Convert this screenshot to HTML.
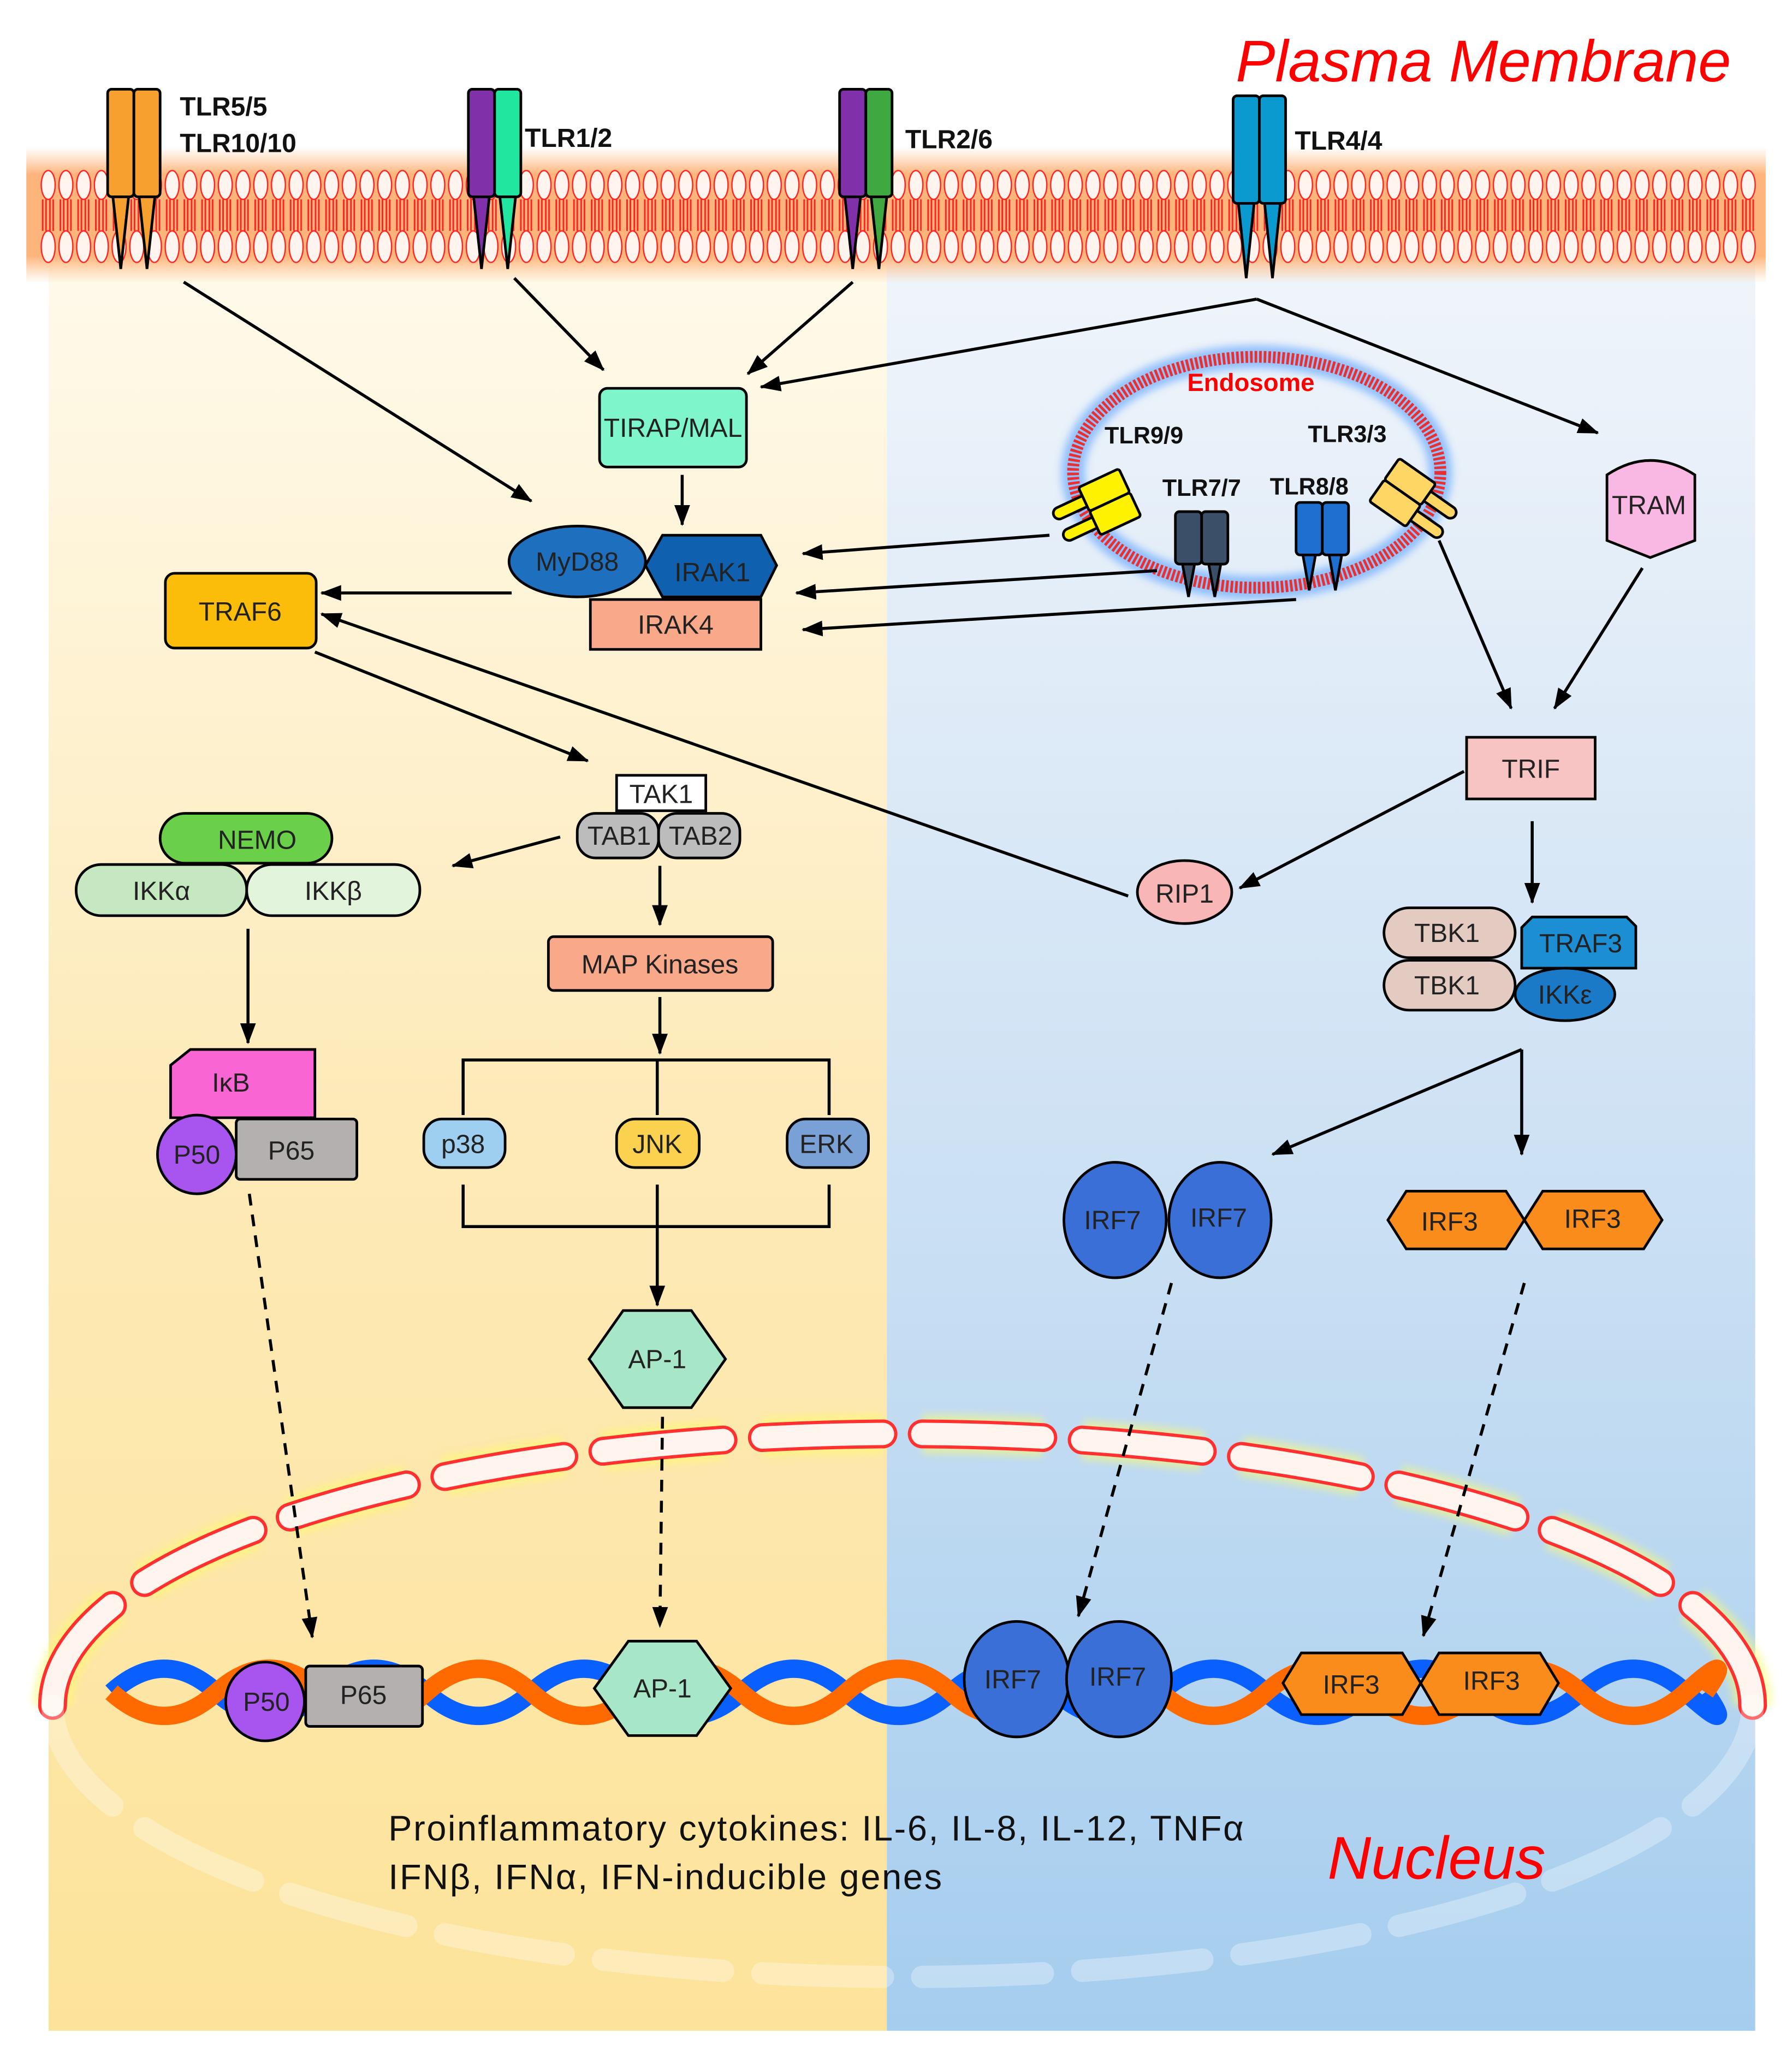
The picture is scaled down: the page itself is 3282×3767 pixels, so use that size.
<!DOCTYPE html>
<html><head><meta charset="utf-8"><style>html,body{margin:0;padding:0;background:#fff}svg{display:block}</style></head>
<body>
<svg xmlns="http://www.w3.org/2000/svg" width="3282" height="3767" viewBox="0 0 1366 1568" font-family="Liberation Sans, Arial, sans-serif">
<defs>
<linearGradient id="lg" x1="0" y1="0" x2="0" y2="1"><stop offset="0" stop-color="#fffbef"/><stop offset="0.5" stop-color="#fdeab8"/><stop offset="1" stop-color="#fde39a"/></linearGradient>
<linearGradient id="rg" x1="0" y1="0" x2="0" y2="1"><stop offset="0" stop-color="#f2f6fb"/><stop offset="0.5" stop-color="#cfe2f4"/><stop offset="1" stop-color="#a5cdee"/></linearGradient>
<linearGradient id="mg" x1="0" y1="0" x2="0" y2="1"><stop offset="0" stop-color="#fdc48f" stop-opacity="0"/><stop offset="0.2" stop-color="#fdb57c"/><stop offset="0.8" stop-color="#fdb57c"/><stop offset="1" stop-color="#fdc48f" stop-opacity="0"/></linearGradient>
<pattern id="lip" x="30" y="0" width="13.5" height="300" patternUnits="userSpaceOnUse">
<ellipse cx="6.7" cy="141" rx="5.3" ry="11" fill="#fff5ee" stroke="#ff2020" stroke-width="1"/>
<ellipse cx="6.7" cy="188" rx="5.3" ry="12" fill="#fff5ee" stroke="#ff2020" stroke-width="1"/>
<path d="M2.5,152 V176 M5,152 V176 M8,152 V176 M10.5,152 V176" stroke="#ff2020" stroke-width="1.2"/>
</pattern>
<marker id="a" markerWidth="16" markerHeight="12" refX="15" refY="6" orient="auto" markerUnits="userSpaceOnUse"><path d="M0,0 L16,6 L0,12 z" fill="#000"/></marker>
<filter id="bl2"><feGaussianBlur stdDeviation="3"/></filter>
</defs>

<rect x="37" y="150" width="639" height="1398" fill="url(#lg)"/>
<rect x="676" y="150" width="662" height="1398" fill="url(#rg)"/>
<rect x="20" y="112" width="1326" height="104" fill="url(#mg)"/>
<rect x="30" y="128" width="1310" height="75" fill="url(#lip)"/>

<text x="942" y="62" font-size="45" font-style="italic" fill="#ff0000">Plasma Membrane</text>

<g stroke="#000" stroke-width="2">
<path d="M86,150 L92,205 L98,150 Z" fill="#f7a030"/><path d="M106,150 L112,205 L118,150 Z" fill="#f7a030"/>
<rect x="82" y="68" width="20" height="82" rx="3" fill="#f7a030"/><rect x="102" y="68" width="20" height="82" rx="3" fill="#f7a030"/>
<path d="M361,150 L367,205 L373,150 Z" fill="#8030a8"/><path d="M381,150 L387,205 L393,150 Z" fill="#20e6a0"/>
<rect x="357" y="68" width="20" height="82" rx="3" fill="#8030a8"/><rect x="377" y="68" width="20" height="82" rx="3" fill="#20e6a0"/>
<path d="M644,150 L650,205 L656,150 Z" fill="#8030a8"/><path d="M664,150 L670,205 L676,150 Z" fill="#40a840"/>
<rect x="640" y="68" width="20" height="82" rx="3" fill="#8030a8"/><rect x="660" y="68" width="20" height="82" rx="3" fill="#40a840"/>
<path d="M944,155 L950,212 L956,155 Z" fill="#0a9ad0"/><path d="M964,155 L970,212 L976,155 Z" fill="#0a9ad0"/>
<rect x="940" y="73" width="20" height="82" rx="3" fill="#0a9ad0"/><rect x="960" y="73" width="20" height="82" rx="3" fill="#0a9ad0"/>
</g>
<g font-size="20" font-weight="bold" fill="#111">
<text x="137" y="88">TLR5/5</text><text x="137" y="116">TLR10/10</text>
<text x="400" y="112">TLR1/2</text><text x="690" y="113">TLR2/6</text><text x="987" y="114">TLR4/4</text>
</g>

<!-- nucleus envelope -->
<path d="M40,1300 A648,207 0 0 1 1336,1300" fill="none" stroke="#ffff60" stroke-width="30" stroke-dasharray="92 30" opacity="0.5" filter="url(#bl2)"/>
<path d="M40,1300 A648,207 0 0 1 1336,1300" fill="none" stroke="#ff3030" stroke-width="22" stroke-dasharray="92 30" stroke-linecap="round"/>
<path d="M40,1300 A648,207 0 0 1 1336,1300" fill="none" stroke="#fff5ee" stroke-width="17" stroke-dasharray="92 30" stroke-linecap="round"/>
<path d="M40,1300 A648,207 0 0 0 1336,1300" fill="none" stroke="#ffffff" stroke-width="17" stroke-dasharray="92 30" stroke-linecap="round" opacity="0.3"/>

<!-- DNA -->
<path d="M85,1290 q40,-36 80,0 t80,0 t80,0 t80,0 t80,0 t80,0 t80,0 t80,0 t80,0 t80,0 t80,0 t80,0 t80,0 t80,0 t80,0 t15,0" fill="none" stroke="#0a60ff" stroke-width="14"/>
<path d="M85,1290 q40,36 80,0 t80,0 t80,0 t80,0 t80,0 t80,0 t80,0 t80,0 t80,0 t80,0 t80,0 t80,0 t80,0 t80,0 t80,0 t15,0" fill="none" stroke="#ff6a00" stroke-width="14"/>

<!-- endosome -->
<ellipse cx="958" cy="360" rx="140" ry="88" fill="none" stroke="#5aa0ff" stroke-width="18" opacity="0.6" filter="url(#bl2)"/>
<ellipse cx="958" cy="360" rx="140" ry="88" fill="none" stroke="#e83030" stroke-width="9" stroke-dasharray="2 1.5"/>
<text x="905" y="298" font-size="19" font-weight="bold" fill="#ff0000">Endosome</text>
<g font-size="18" font-weight="bold" fill="#111">
<text x="842" y="338">TLR9/9</text><text x="997" y="337">TLR3/3</text><text x="886" y="378">TLR7/7</text><text x="968" y="377">TLR8/8</text>
</g>
<g stroke="#000" stroke-width="2">
<g transform="translate(845,383) rotate(-25)">
<rect x="-42" y="-13" width="30" height="9" rx="4.5" fill="#fff200"/><rect x="-42" y="5" width="30" height="9" rx="4.5" fill="#fff200"/>
<rect x="-16" y="-20" width="34" height="20" rx="2" fill="#fff200"/><rect x="-16" y="0" width="34" height="20" rx="2" fill="#fff200"/>
</g>
<g transform="translate(1070,376) rotate(35)">
<rect x="12" y="-13" width="30" height="9" rx="4.5" fill="#fdd664"/><rect x="12" y="5" width="30" height="9" rx="4.5" fill="#fdd664"/>
<rect x="-18" y="-20" width="34" height="20" rx="2" fill="#fdd664"/><rect x="-18" y="0" width="34" height="20" rx="2" fill="#fdd664"/>
</g>
<path d="M901,428 L906,455 L911,428Z" fill="#3b5068"/><path d="M921,428 L926,455 L931,428Z" fill="#3b5068"/>
<rect x="896" y="390" width="20" height="40" rx="3" fill="#3b5068"/><rect x="916" y="390" width="20" height="40" rx="3" fill="#3b5068"/>
<path d="M993,422 L998,450 L1003,422Z" fill="#1e6fcf"/><path d="M1013,422 L1018,450 L1023,422Z" fill="#1e6fcf"/>
<rect x="988" y="383" width="20" height="40" rx="3" fill="#1e6fcf"/><rect x="1008" y="383" width="20" height="40" rx="3" fill="#1e6fcf"/>
</g>

<g stroke="#000" stroke-width="2.3" fill="none" marker-end="url(#a)">
<line x1="140" y1="215" x2="405" y2="382"/>
<line x1="392" y1="212" x2="460" y2="282"/>
<line x1="650" y1="215" x2="570" y2="285"/>
<polyline points="958,228 580,295" />
<line x1="958" y1="228" x2="1218" y2="330"/>
<line x1="520" y1="362" x2="520" y2="400"/>
<line x1="390" y1="452" x2="245" y2="452"/>
<line x1="240" y1="497" x2="448" y2="580"/>
<line x1="860" y1="683" x2="245" y2="468"/>
<line x1="800" y1="408" x2="612" y2="422"/>
<line x1="882" y1="435" x2="607" y2="452"/>
<line x1="988" y1="457" x2="612" y2="480"/>
<line x1="1097" y1="412" x2="1152" y2="540"/>
<line x1="1252" y1="433" x2="1185" y2="540"/>
<line x1="1116" y1="588" x2="945" y2="677"/>
<line x1="1168" y1="626" x2="1168" y2="688"/>
<line x1="1160" y1="800" x2="970" y2="880"/>
<line x1="1160" y1="800" x2="1160" y2="880"/>
<line x1="427" y1="638" x2="345" y2="660"/>
<line x1="189" y1="708" x2="189" y2="795"/>
<line x1="503" y1="660" x2="503" y2="705"/>
<line x1="503" y1="760" x2="503" y2="803"/>
<line x1="501" y1="935" x2="501" y2="995"/>
<line x1="190" y1="910" x2="238" y2="1248" stroke-dasharray="9 7"/>
<line x1="505" y1="1080" x2="503" y2="1240" stroke-dasharray="9 7"/>
<line x1="893" y1="978" x2="822" y2="1232" stroke-dasharray="9 7"/>
<line x1="1162" y1="978" x2="1085" y2="1247" stroke-dasharray="9 7"/>
</g>
<g stroke="#000" stroke-width="2.3" fill="none">
<polyline points="353,850 353,808 632,808 632,850"/><line x1="501" y1="808" x2="501" y2="850"/>
<polyline points="353,903 353,935 632,935 632,903"/><line x1="501" y1="903" x2="501" y2="935"/>
</g>

<g stroke="#000" stroke-width="2" font-size="20" text-anchor="middle" fill="#222">
<rect x="457" y="296" width="112" height="60" rx="6" fill="#7ff5cc"/>
<rect x="450" y="457" width="130" height="38" fill="#f9a98a"/>
<polygon points="505,408 580,408 592,431 580,455 505,455 492,431" fill="#1060b0"/>
<ellipse cx="440" cy="428" rx="52" ry="27" fill="#1f6fbf"/>
<rect x="126" y="437" width="115" height="57" rx="7" fill="#fbbd0a"/>
<path d="M1225,362 Q1258,340 1292,362 V412 L1258,425 L1225,412 Z" fill="#f9b7e3"/>
<rect x="1118" y="562" width="98" height="47" fill="#f8c3c3"/>
<ellipse cx="903" cy="680" rx="36" ry="24" fill="#f9b6b6"/>
<rect x="1055" y="692" width="100" height="38" rx="19" fill="#e3cbc2"/>
<rect x="1055" y="732" width="100" height="38" rx="19" fill="#e3cbc2"/>
<path d="M1168,699 H1240 L1247,706 V738 H1160 V707 Z" fill="#1b8ed4"/>
<ellipse cx="1193" cy="758" rx="38" ry="20" fill="#1b7ac8"/>
<ellipse cx="850" cy="930" rx="39" ry="44" fill="#3a6fd8"/>
<ellipse cx="930" cy="930" rx="39" ry="44" fill="#3a6fd8"/>
<polygon points="1072,908 1148,908 1162,930 1148,952 1072,952 1058,930" fill="#fa8c1c"/>
<polygon points="1176,908 1253,908 1267,930 1253,952 1176,952 1162,930" fill="#fa8c1c"/>
<rect x="470" y="591" width="68" height="27" fill="#fff"/>
<rect x="440" y="620" width="62" height="34" rx="14" fill="#bcbcbc"/>
<rect x="502" y="620" width="62" height="34" rx="14" fill="#bcbcbc"/>
<rect x="122" y="620" width="131" height="38" rx="19" fill="#6ad04a"/>
<rect x="58" y="659" width="130" height="39" rx="19" fill="#c5e8c0"/>
<rect x="188" y="659" width="132" height="39" rx="19" fill="#e2f4dc"/>
<path d="M145,800 H240 V852 H130 V812 Z" fill="#f966d3"/>
<rect x="180" y="853" width="92" height="46" rx="3" fill="#b5b0b0"/>
<circle cx="150" cy="880" r="30" fill="#a855f0"/>
<rect x="418" y="714" width="171" height="41" rx="4" fill="#f9a98a"/>
<rect x="323" y="853" width="62" height="37" rx="14" fill="#9fcff0"/>
<rect x="470" y="853" width="63" height="37" rx="14" fill="#fbd150"/>
<rect x="600" y="853" width="62" height="37" rx="14" fill="#7aa1d6"/>
<polygon points="475,999 527,999 553,1036 527,1073 475,1073 449,1036" fill="#a8e6c8"/>
<polygon points="479,1251 531,1251 557,1287 531,1323 479,1323 453,1287" fill="#a8e6c8"/>
<rect x="233" y="1270" width="89" height="46" rx="3" fill="#b5b0b0"/>
<circle cx="202" cy="1297" r="30" fill="#a855f0"/>
<ellipse cx="775" cy="1280" rx="40" ry="44" fill="#3a6fd8"/>
<ellipse cx="853" cy="1280" rx="40" ry="44" fill="#3a6fd8"/>
<polygon points="992,1260 1069,1260 1083,1283 1069,1307 992,1307 978,1283" fill="#fa8c1c"/>
<polygon points="1097,1260 1174,1260 1188,1283 1174,1307 1097,1307 1083,1283" fill="#fa8c1c"/>
</g>
<g font-size="20" text-anchor="middle" fill="#222">
<text x="513" y="333">TIRAP/MAL</text>
<text x="515" y="483">IRAK4</text>
<text x="543" y="443">IRAK1</text>
<text x="440" y="435">MyD88</text>
<text x="183" y="473">TRAF6</text>
<text x="1257" y="392">TRAM</text>
<text x="1167" y="593">TRIF</text>
<text x="903" y="688">RIP1</text>
<text x="1103" y="718">TBK1</text><text x="1103" y="758">TBK1</text>
<text x="1205" y="726">TRAF3</text>
<text x="1193" y="765">IKKε</text>
<text x="848" y="937">IRF7</text><text x="929" y="935">IRF7</text>
<text x="1105" y="938">IRF3</text><text x="1214" y="936">IRF3</text>
<text x="504" y="612">TAK1</text>
<text x="472" y="644">TAB1</text><text x="534" y="644">TAB2</text>
<text x="196" y="647">NEMO</text>
<text x="123" y="686">IKKα</text><text x="254" y="686">IKKβ</text>
<text x="176" y="832">IκB</text>
<text x="222" y="884">P65</text>
<text x="150" y="887">P50</text>
<text x="503" y="742">MAP Kinases</text>
<text x="353" y="879">p38</text><text x="501" y="879">JNK</text><text x="630" y="879">ERK</text>
<text x="501" y="1043">AP-1</text><text x="505" y="1294">AP-1</text>
<text x="277" y="1299">P65</text><text x="203" y="1304">P50</text>
<text x="772" y="1287">IRF7</text><text x="852" y="1285">IRF7</text>
<text x="1030" y="1291">IRF3</text><text x="1137" y="1288">IRF3</text>
</g>

<g font-size="27" fill="#111">
<text x="296" y="1403" textLength="652">Proinflammatory cytokines: IL-6, IL-8, IL-12, TNFα</text>
<text x="296" y="1440" textLength="422">IFNβ, IFNα, IFN-inducible genes</text>
</g>
<text x="1012" y="1432" font-size="46" font-style="italic" fill="#ff0000">Nucleus</text>
</svg>
</body></html>
